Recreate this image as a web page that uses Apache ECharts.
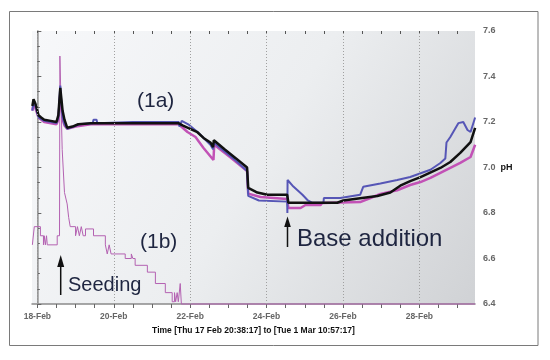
<!DOCTYPE html>
<html>
<head>
<meta charset="utf-8">
<script src="https://cdn.jsdelivr.net/npm/echarts@6/dist/echarts.min.js"></script>
<style>html,body{margin:0;padding:0;background:#fff}#c{width:550px;height:360px}</style>
</head>
<body>
<div id="c"></div>
<script>
// x values: days since 18-Feb 00:00 (2011); y values: pH
const xMin = -0.14008;   // Thu 17 Feb 20:38:17
const xMax = 11.45645;   // Tue 1 Mar 10:57:17
const dayTicks = [0,2,4,6,8,10];
const dayLabels = ['18-Feb','20-Feb','22-Feb','24-Feb','26-Feb','28-Feb'];
const halfDayTicks = [0,0.5,1,1.5,2,2.5,3,3.5,4,4.5,5,5.5,6,6.5,7,7.5,8,8.5,9,9.5,10,10.5,11];
const phMin = 6.4, phMax = 7.6, phStep = 0.2;
const xTitle = 'Time [Thu 17 Feb 20:38:17] to [Tue 1 Mar 10:57:17]';

const series1aBlack = [[-0.13,7.27],[-0.10,7.30],[-0.05,7.28],[0.03,7.23],[0.10,7.22],[0.18,7.21],[0.35,7.205],[0.50,7.20],[0.55,7.23],[0.60,7.35],[0.63,7.30],[0.66,7.25],[0.71,7.21],[0.78,7.175],[0.92,7.18],[1.07,7.19],[1.4,7.195],[2.5,7.195],[3.69,7.195],[3.80,7.185],[4.0,7.17],[4.19,7.155],[4.35,7.13],[4.53,7.11],[4.60,7.09],[4.62,7.12],[4.9,7.08],[5.2,7.04],[5.49,7.00],[5.52,6.91],[5.76,6.89],[6.02,6.88],[6.54,6.88],[6.57,6.845],[7.85,6.845],[8.01,6.855],[8.45,6.865],[8.9,6.875],[9.24,6.89],[9.50,6.92],[9.76,6.94],[10.03,6.958],[10.55,6.998],[10.81,7.024],[11.07,7.064],[11.34,7.112],[11.46,7.174]];
const seriesBlue = [[-0.13,7.25],[-0.10,7.29],[-0.05,7.27],[0.03,7.22],[0.18,7.205],[0.50,7.195],[0.55,7.22],[0.60,7.36],[0.63,7.28],[0.66,7.22],[0.71,7.19],[0.78,7.17],[0.95,7.18],[1.10,7.19],[1.45,7.195],[1.47,7.21],[1.55,7.21],[1.57,7.195],[2.5,7.20],[3.70,7.20],[3.72,7.18],[3.78,7.205],[3.95,7.19],[4.2,7.155],[4.53,7.10],[4.60,7.08],[4.62,7.11],[4.9,7.07],[5.2,7.03],[5.49,6.985],[5.52,6.875],[5.8,6.855],[6.54,6.85],[6.545,6.80],[6.55,6.945],[6.68,6.92],[6.81,6.90],[6.94,6.88],[7.07,6.857],[7.2,6.845],[7.49,6.845],[7.50,6.866],[7.93,6.866],[8.45,6.88],[8.53,6.915],[8.98,6.93],[9.42,6.945],[9.76,6.958],[10.29,6.99],[10.55,7.02],[10.68,7.04],[10.71,7.11],[10.81,7.134],[11.02,7.195],[11.15,7.20],[11.26,7.165],[11.34,7.156],[11.46,7.22]];
const seriesMagenta = [[-0.13,7.25],[-0.10,7.28],[-0.05,7.26],[0.03,7.22],[0.18,7.20],[0.50,7.19],[0.55,7.21],[0.60,7.32],[0.63,7.27],[0.66,7.21],[0.71,7.185],[0.78,7.17],[1.0,7.18],[1.4,7.19],[2.5,7.19],[3.70,7.19],[3.74,7.187],[3.93,7.156],[4.14,7.134],[4.35,7.086],[4.61,7.033],[4.63,7.10],[5.05,7.045],[5.49,6.985],[5.52,6.885],[5.84,6.87],[6.54,6.862],[6.57,6.822],[6.89,6.822],[7.02,6.835],[7.41,6.835],[7.46,6.844],[8.45,6.848],[8.72,6.866],[8.98,6.884],[9.42,6.90],[9.76,6.923],[10.03,6.936],[10.29,6.954],[10.55,6.976],[10.81,6.998],[11.07,7.02],[11.34,7.046],[11.46,7.10]];
const series1b = [[-0.13,6.66],[-0.08,6.66],[-0.08,6.74],[0.08,6.74],[0.08,6.70],[0.16,6.70],[0.16,6.66],[0.18,6.66],[0.18,6.70],[0.21,6.70],[0.21,6.66],[0.24,6.66],[0.24,6.70],[0.26,6.70],[0.26,6.66],[0.52,6.66],[0.52,6.70],[0.58,6.70],[0.59,7.49],[0.63,7.49],[0.65,7.08],[0.71,6.89],[0.78,6.84],[0.82,6.78],[0.86,6.74],[1.0,6.74],[1.0,6.70],[1.05,6.70],[1.05,6.74],[1.10,6.74],[1.10,6.70],[1.15,6.70],[1.15,6.74],[1.20,6.74],[1.20,6.70],[1.26,6.70],[1.26,6.73],[1.47,6.73],[1.47,6.70],[1.78,6.70],[1.78,6.66],[1.83,6.66],[1.83,6.62],[1.88,6.62],[1.88,6.66],[1.93,6.66],[1.93,6.62],[2.30,6.62],[2.30,6.60],[2.46,6.60],[2.46,6.62],[2.50,6.62],[2.50,6.60],[2.56,6.60],[2.56,6.57],[2.88,6.57],[2.88,6.54],[3.09,6.54],[3.09,6.49],[3.35,6.49],[3.35,6.45],[3.53,6.45],[3.53,6.41],[3.59,6.41],[3.59,6.45],[3.62,6.45],[3.62,6.41],[3.66,6.41],[3.66,6.45],[3.69,6.45],[3.69,6.41],[3.74,6.41],[3.74,6.49],[3.77,6.49],[3.77,6.40],[11.46,6.40]];

const chart = echarts.init(document.getElementById('c'), null, {renderer:'canvas'});
const grid = {left:32, right:75, top:31, bottom:56};
const lblFont = {fontFamily:'Liberation Sans, Arial, sans-serif', fontSize:8.5, fontWeight:'bold', color:'#666'};
const yLblFont = {fontFamily:'Liberation Sans, Arial, sans-serif', fontSize:9, fontWeight:'bold', color:'#666'};

chart.setOption({
  animation:false,
  backgroundColor:'#ffffff',
  grid: Object.assign({show:true, borderWidth:0, backgroundColor:{type:'linear',x:0,y:0,x2:1,y2:1,colorStops:[{offset:0,color:'#f7f8fa'},{offset:0.5,color:'#eceef0'},{offset:1,color:'#d0d2d5'}]}}, grid),
  xAxis:[{
    type:'value', position:'bottom', min:xMin, max:xMax,
    axisLine:{show:true, lineStyle:{color:'#8a8a8a', width:1.5}},
    axisTick:{show:true, customValues:halfDayTicks, length:4, lineStyle:{color:'#666'}},
    axisLabel:Object.assign({customValues:dayTicks, margin:8, formatter:v=>{const i=dayTicks.indexOf(Math.round(v)); return i>=0?dayLabels[i]:'';}}, lblFont),
    splitLine:{show:false},
    name:xTitle, nameLocation:'middle', nameGap:20,
    nameTextStyle:{fontFamily:'Liberation Sans, Arial, sans-serif', fontSize:8.5, fontWeight:'bold', color:'#111'}
  },{
    type:'value', position:'top', min:xMin, max:xMax,
    axisLine:{show:false},
    axisTick:{show:true, inside:true, customValues:halfDayTicks, length:3, lineStyle:{color:'#555'}},
    axisLabel:{show:false}, splitLine:{show:false}
  }],
  yAxis:[{
    type:'value', position:'right', min:phMin, max:phMax, interval:phStep,
    axisLine:{show:true, lineStyle:{color:'#8a8a8a', width:1}},
    axisTick:{show:true, length:4, lineStyle:{color:'#666'}},
    minorTick:{show:true, splitNumber:3, length:2.5, lineStyle:{color:'#666'}},
    axisLabel:Object.assign({margin:8, formatter:v=>{const s=v.toFixed(1); return s==='7.0' ? s+'  {p|pH}' : s;},
      rich:{p:{fontFamily:'Liberation Sans, Arial, sans-serif', fontSize:9, fontWeight:'bold', color:'#111'}}}, yLblFont),
    splitLine:{show:false}
  },{
    type:'value', position:'left', min:phMin, max:phMax,
    axisLine:{show:true, lineStyle:{color:'#9a9a9a', width:1.5}},
    axisTick:{show:false}, axisLabel:{show:false}, splitLine:{show:false}
  }],
  series:[
    {type:'line', data:[], silent:true,
     markLine:{silent:true, symbol:['none','none'], label:{show:false},
       lineStyle:{color:'#a0a0a0', type:[1,2], width:1},
       data: dayTicks.map(d=>({xAxis:d}))}},
    {type:'line', name:'1b', data:series1b, showSymbol:false, clip:false,
     lineStyle:{color:'#b462b2', width:1}},
    {type:'line', name:'magenta', data:seriesMagenta, showSymbol:false,
     lineStyle:{color:'#c252b6', width:2.5}},
    {type:'line', name:'blue', data:seriesBlue, showSymbol:false,
     lineStyle:{color:'#5656b6', width:2}},
    {type:'line', name:'1a', data:series1aBlack, showSymbol:false,
     lineStyle:{color:'#111111', width:2.5}}
  ],
  graphic:[
    {type:'rect', shape:{x:9.5, y:11.5, width:528.5, height:334}, style:{fill:'none', stroke:'#7a7a7a', lineWidth:1}, silent:true, z:-1},
    {type:'text', style:{x:137, y:101, text:'(1a)', font:'21px "Liberation Sans", Arial, sans-serif', fill:'#1e2540', verticalAlign:'middle', textVerticalAlign:'middle'}, z:100},
    {type:'text', style:{x:140, y:242, text:'(1b)', font:'21px "Liberation Sans", Arial, sans-serif', fill:'#1e2540', verticalAlign:'middle', textVerticalAlign:'middle'}, z:100},
    {type:'text', style:{x:68, y:285.5, text:'Seeding', font:'20px "Liberation Sans", Arial, sans-serif', fill:'#1e2540', verticalAlign:'middle', textVerticalAlign:'middle'}, z:100},
    {type:'text', style:{x:297, y:239, text:'Base addition', font:'24px "Liberation Sans", Arial, sans-serif', fill:'#1e2540', verticalAlign:'middle', textVerticalAlign:'middle'}, z:100},
    {type:'line', shape:{x1:60.7, y1:266, x2:60.7, y2:295}, style:{stroke:'#111', lineWidth:1.5}, z:100},
    {type:'polygon', shape:{points:[[60.7,255],[57.2,267],[64.2,267]]}, style:{fill:'#111'}, z:100},
    {type:'line', shape:{x1:287.5, y1:226, x2:287.5, y2:247}, style:{stroke:'#111', lineWidth:1.5}, z:100},
    {type:'polygon', shape:{points:[[287.5,216.5],[284.2,227],[290.8,227]]}, style:{fill:'#111'}, z:100}
  ]
});
</script>
</body>
</html>
